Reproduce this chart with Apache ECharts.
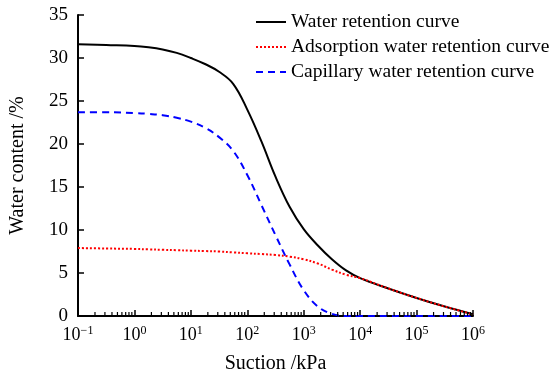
<!DOCTYPE html>
<html>
<head>
<meta charset="utf-8">
<script src="https://cdn.jsdelivr.net/npm/echarts@6.0.0/dist/echarts.min.js"></script>
<style>
  html, body { margin: 0; padding: 0; background: #fff; }
  #chart { width: 555px; height: 376px; }
</style>
</head>
<body>
<div id="chart"></div>
<script>
// Data (suction in kPa, water content in %)
const suction = [0.1, 0.316, 1, 1.78, 3.16, 5.62, 10, 17.8, 31.6, 56.2, 100, 178, 316, 562,
                 1000, 1780, 3160, 5620, 10000, 31600, 100000, 316000, 1000000];
const totalCurve = [31.6, 31.5, 31.4, 31.25, 31.0, 30.6, 30.0, 29.3, 28.4, 27.0, 24.0, 20.3, 16.2, 12.7,
                    10.1, 8.2, 6.6, 5.3, 4.4, 3.2, 2.1, 1.1, 0.2];
const adsorptionCurve = [7.9, 7.85, 7.8, 7.75, 7.7, 7.65, 7.6, 7.55, 7.5, 7.4, 7.3, 7.2, 7.1, 6.9,
                         6.6, 6.1, 5.4, 4.8, 4.4, 3.2, 2.1, 1.1, 0.2];
const capillaryCurve = [23.7, 23.7, 23.6, 23.5, 23.35, 23.05, 22.6, 21.9, 20.8, 19.2, 16.4, 12.9, 9.4, 6.0,
                        3.0, 1.1, 0.25, 0, 0, 0, 0, 0, 0];
const seriesNames = ['Water retention curve', 'Adsorption water retention curve', 'Capillary water retention curve'];

// Minor tick positions on the log axis (2..9 x 10^n)
const minorTicks = [];
for (let n = -1; n < 6; n++) {
  for (let k = 2; k < 10; k++) minorTicks.push(k * Math.pow(10, n));
}

const font = 'Liberation Serif';
const sup = { '-1': '−1', '0': '0', '1': '1', '2': '2', '3': '3', '4': '4', '5': '5', '6': '6' };

function pairs(ys) {
  return suction.map((x, i) => [x, ys[i]]);
}

var myChart = echarts.init(document.getElementById('chart'));

var option = {
  animation: false,
  grid: { left: 78, right: 82, top: 15, bottom: 60, outerBoundsMode: 'none', containLabel: false },
  legend: {
    data: seriesNames,
    orient: 'vertical',
    left: 250,
    top: 7,
    itemWidth: 30,
    itemHeight: 14,
    itemGap: 5,
    itemStyle: { opacity: 0 },
    textStyle: { fontFamily: font, fontSize: 19.5, color: '#000' }
  },
  xAxis: {
    type: 'log',
    logBase: 10,
    min: 0.1,
    max: 1000000,
    name: 'Suction /kPa',
    nameLocation: 'middle',
    nameGap: 38,
    nameTextStyle: { fontFamily: font, fontSize: 20, color: '#000' },
    axisLine: { lineStyle: { color: '#000', width: 2 } },
    axisTick: { inside: true, length: 6, lineStyle: { color: '#000', width: 1.5 } },
    splitLine: { show: false },
    axisLabel: {
      margin: 9,
      formatter: function (v) {
        const e = Math.round(Math.log10(v));
        return '{b|10}{s|' + sup[String(e)] + '}';
      },
      rich: {
        b: { fontFamily: font, fontSize: 18, color: '#000' },
        s: { fontFamily: font, fontSize: 12, color: '#000', padding: [0, 0, 9, 0] }
      }
    }
  },
  yAxis: {
    type: 'value',
    min: 0,
    max: 35,
    interval: 5,
    name: 'Water content /%',
    nameLocation: 'middle',
    nameGap: 50,
    nameTextStyle: { fontFamily: font, fontSize: 20, color: '#000' },
    axisLine: { show: true, lineStyle: { color: '#000', width: 2 } },
    axisTick: { show: true, inside: true, length: 6, lineStyle: { color: '#000', width: 1.5 } },
    splitLine: { show: false },
    axisLabel: { fontFamily: font, fontSize: 19, color: '#000', margin: 10 }
  },
  series: [
    {
      name: seriesNames[0],
      type: 'line',
      smooth: 0.4,
      symbol: 'none',
      data: pairs(totalCurve),
      lineStyle: { color: '#000', width: 2, type: 'solid' },
      itemStyle: { color: '#000' },
      z: 3
    },
    {
      name: seriesNames[1],
      type: 'line',
      smooth: 0.4,
      symbol: 'none',
      data: pairs(adsorptionCurve),
      lineStyle: { color: '#ff0000', width: 2, type: [2, 2] },
      itemStyle: { color: '#ff0000' },
      z: 4
    },
    {
      name: seriesNames[2],
      type: 'line',
      smooth: 0.4,
      symbol: 'none',
      data: pairs(capillaryCurve),
      lineStyle: { color: '#0000ff', width: 2, type: [7, 5] },
      itemStyle: { color: '#0000ff' },
      z: 5
    },
    {
      // minor ticks along the log axis
      type: 'custom',
      silent: true,
      data: minorTicks.map(v => [v, 0]),
      renderItem: function (params, api) {
        const p = api.coord([api.value(0), 0]);
        return {
          type: 'line',
          shape: { x1: p[0], y1: p[1], x2: p[0], y2: p[1] - 4 },
          style: { stroke: '#000', lineWidth: 1.2 }
        };
      },
      z: 6
    }
  ]
};

option && myChart.setOption(option);
window.addEventListener('resize', myChart.resize);
</script>
</body>
</html>
